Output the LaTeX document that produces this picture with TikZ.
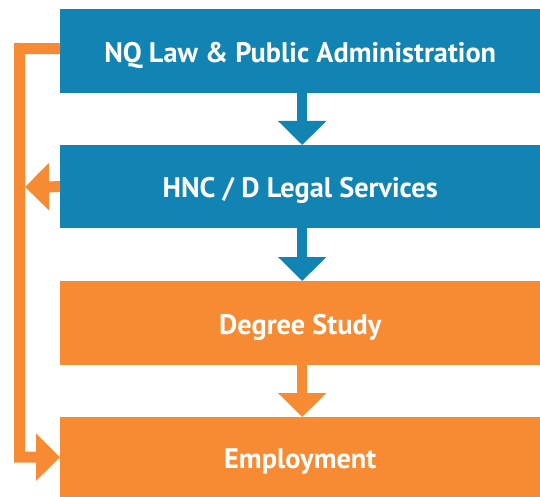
\documentclass[tikz,border=0pt]{standalone}
\usepackage{fontspec}
\setmainfont{PT Sans}
\usetikzlibrary{arrows.meta,calc}
\definecolor{cblue}{RGB}{18,132,179}
\definecolor{corange}{RGB}{246,139,51}
\begin{document}
\begin{tikzpicture}[x=1pt,y=-1pt,
  box/.style={minimum width=480pt,anchor=north west,inner sep=0pt,text=white,text height=22pt,text depth=0pt,font=\bfseries\fontsize{28.3}{30}\selectfont},
  bluebox/.style={box,fill=cblue},
  orangebox/.style={box,fill=corange},
  downarrow/.style={line width=10pt,-{Triangle[width=47pt,length=24pt]}},
  sidearrow/.style={draw=corange,line width=11pt,line join=miter,-{Triangle[width=46pt,length=24pt]}}]
\useasboundingbox (0,0) rectangle (540,497);
\node[bluebox,minimum height=84pt] (a) at (60,9) {NQ Law \& Public Administration};
\node[bluebox,minimum height=83pt] (b) at (60,145) {HNC / D Legal Services};
\node[orangebox,minimum height=84pt] (c) at (60,281) {Degree Study};
\node[orangebox,minimum height=80pt] (d) at (60,417) {Employment};
\draw[downarrow,draw=cblue] ($(a.south)+(2,0)$) -- ($(b.north)+(2,0)$);
\draw[downarrow,draw=cblue] ($(b.south)+(2,0)$) -- ($(c.north)+(2,0)$);
\draw[downarrow,draw=corange] ($(c.south)+(2,0)$) -- ($(d.north)+(2,0)$);
\coordinate (tl) at (19.5,48.5);
\coordinate (hb) at (25,187);
\draw[sidearrow] ($(a.west)+(0,-2.5)$) -- (tl) -- (tl |- d.west) -- (d.west);
\draw[sidearrow] (b.west) -- (hb);
\end{tikzpicture}
\end{document}
